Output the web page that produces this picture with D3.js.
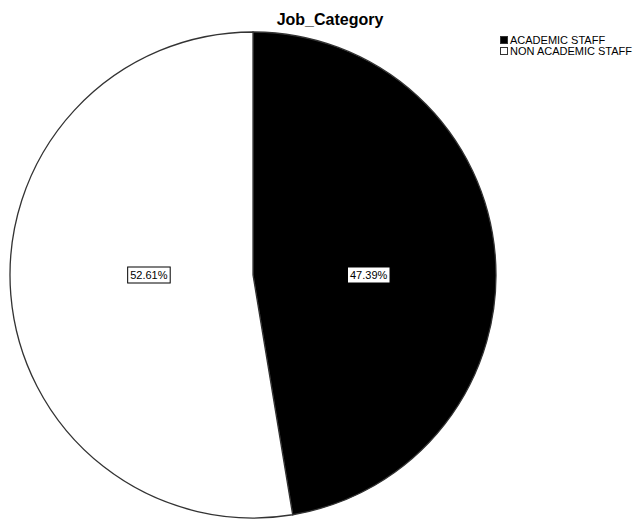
<!DOCTYPE html>
<html><head><meta charset="utf-8">
<script src="https://cdn.jsdelivr.net/npm/d3@7"></script>
<style>body{margin:0;background:#fff}svg{display:block}</style>
</head><body>
<script>
const categories = ["ACADEMIC STAFF", "NON ACADEMIC STAFF"];
const percents = [47.39, 52.61];
const labels = ["47.39%", "52.61%"];
const fills = ["#000000", "#ffffff"];

const W = 635, H = 519;
const svg = d3.select("body").append("svg").attr("width", W).attr("height", H)
  .style("font-family", "Arial, 'Liberation Sans', sans-serif");

svg.append("text").attr("x", 330).attr("y", 25).attr("text-anchor", "middle")
  .attr("font-size", 16).attr("font-weight", "bold").text("Job_Category");

const cx = 253, cy = 275, r = 243;
const pie = d3.pie().sort(null).value(d => d)(percents);
const arc = d3.arc().innerRadius(0).outerRadius(r);
const g = svg.append("g").attr("transform", `translate(${cx},${cy})`);
g.selectAll("path").data(pie).join("path")
  .attr("d", arc).attr("fill", (d,i) => fills[i])
  .attr("stroke", "#333").attr("stroke-width", 1.3);

pie.forEach((d, i) => {
  const half = (d.endAngle - d.startAngle) / 2;
  const a = d.startAngle + half;
  const dist = 1.07 * 2 * r * Math.sin(half) / (3 * half);
  const x = cx + dist * Math.sin(a);
  const y = cy;
  const t = svg.append("text").attr("x", x).attr("y", y + 4).attr("text-anchor", "middle")
    .attr("font-size", 11).text(labels[i]);
  const bb = t.node().getBBox();
  svg.insert("rect", () => t.node()).attr("x", bb.x - 2.5).attr("y", y - 8)
    .attr("width", bb.width + 5).attr("height", 16)
    .attr("fill", "#fff").attr("stroke", "#000").attr("stroke-width", 1);
});

const leg = svg.append("g").attr("transform", "translate(500,36)");
categories.forEach((c, i) => {
  const row = leg.append("g").attr("transform", `translate(0,${i*11})`);
  row.append("rect").attr("x", 0.5).attr("y", 0.5).attr("width", 7).attr("height", 7)
    .attr("fill", fills[i]).attr("stroke", "#333").attr("stroke-width", 1);
  row.append("text").attr("x", 10).attr("y", 8).attr("font-size", 11).text(c);
});
</script>
</body></html>
